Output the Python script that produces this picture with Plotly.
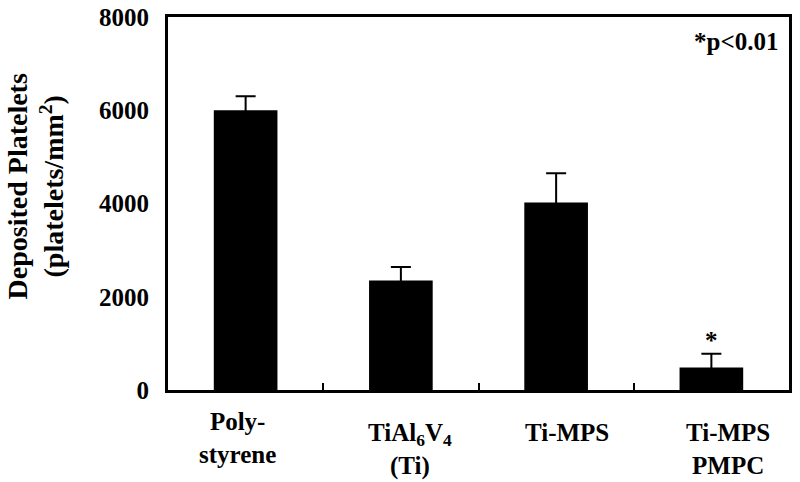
import plotly.graph_objects as go

categories = ["Poly-<br>styrene", "TiAl<sub>6</sub>V<sub>4</sub><br>(Ti)", "Ti-MPS", "Ti-MPS<br>PMPC"]
values = [6000, 2350, 4020, 480]
errors = [300, 290, 630, 300]
y_ticks = [0, 2000, 4000, 6000, 8000]
sig_marks = ["", "", "", "*"]
y_title = "Deposited Platelets<br>(platelets/mm<sup>2</sup>)"

# label nudges (pixels) to match the reference's hand-placed labels
label_dx = [-8, 9, 11, 17]
label_dy = [-16, -27, -27, -27]

FONT = "Liberation Serif"
FS = 25

fig = go.Figure()
fig.add_trace(go.Bar(
    x=categories, y=values,
    marker=dict(color="black", line=dict(width=0)),
    width=0.41,
    error_y=dict(type="data", array=errors, symmetric=True,
                 color="black", thickness=2, width=10),
    showlegend=False, hoverinfo="skip",
))

for c, v, e, s in zip(categories, values, errors, sig_marks):
    if s:
        fig.add_annotation(x=c, y=v + e, text="<b>" + s + "</b>", showarrow=False,
                           yanchor="bottom", yshift=-2,
                           font=dict(family=FONT, size=FS, color="black"))

for c, dx, dy in zip(categories, label_dx, label_dy):
    fig.add_annotation(x=c, xref="x", y=0, yref="paper", text="<b>" + c + "</b>",
                       showarrow=False, xanchor="center", yanchor="top",
                       xshift=dx, yshift=dy, align="center",
                       font=dict(family=FONT, size=FS, color="black"))

fig.add_annotation(xref="paper", yref="paper", x=0.985, y=0.933, text="<b>*p<0.01</b>",
                   showarrow=False, xanchor="right", yanchor="middle",
                   font=dict(family=FONT, size=FS, color="black"))

# y-axis title placed as a rotated annotation (reference title sits above plot centre)
fig.add_annotation(xref="paper", yref="paper", x=-0.213, y=0.545,
                   text="<b>" + y_title + "</b>", textangle=-90, showarrow=False,
                   xanchor="center", yanchor="middle", align="center",
                   font=dict(family=FONT, size=28, color="black"))

fig.update_layout(
    width=800, height=482,
    margin=dict(l=168, r=11, t=17, b=92, autoexpand=False),
    plot_bgcolor="white", paper_bgcolor="white",
    font=dict(family=FONT, color="black"),
)
fig.update_xaxes(
    type="category", range=[-0.5, 3.5],
    showline=True, linecolor="black", linewidth=3, mirror=True,
    ticks="inside", tickson="boundaries", ticklen=7, tickwidth=2, tickcolor="black",
    showticklabels=False,
    showgrid=False, zeroline=False, automargin=False,
)
fig.update_yaxes(
    range=[0, 8000], tickvals=y_ticks, ticktext=["<b>%d</b>" % t for t in y_ticks],
    showline=True, linecolor="black", linewidth=3, mirror=True,
    ticks="", showgrid=False, zeroline=False, automargin=False,
    tickfont=dict(family=FONT, size=FS, color="black"),
    ticklabelstandoff=11, ticklabeloverflow="allow",
)

fig.write_html("out.html", config={"displayModeBar": False},
               post_script="document.body.style.margin='0';")
